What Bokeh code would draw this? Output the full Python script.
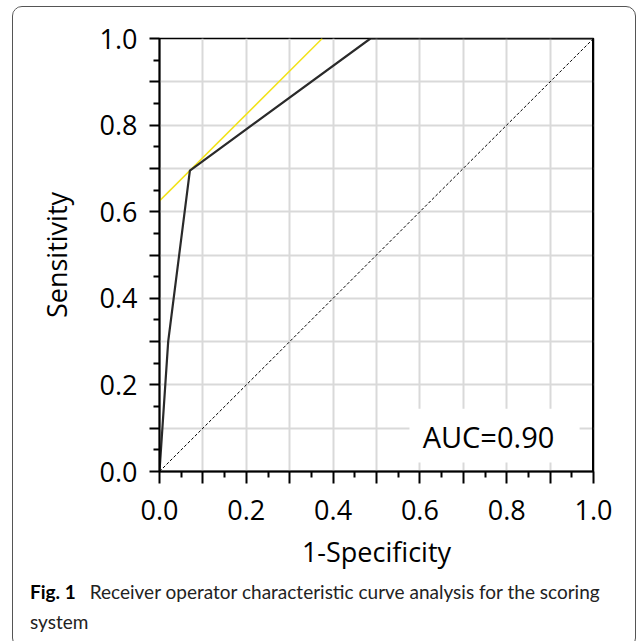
from bokeh.plotting import figure
from bokeh.models import FixedTicker, Label, BoxAnnotation, Range1d, Span, Div
from bokeh.layouts import column
from bokeh.embed import file_html
from bokeh.resources import INLINE

# ROC curve (1-specificity, sensitivity)
roc_fpr = [0.0, 0.02, 0.07, 0.486, 1.0]
roc_tpr = [0.0, 0.30, 0.695, 1.0, 1.0]
# tangent (Youden) line
tan_x = [0.0, 0.375]
tan_y = [0.625, 1.0]
# chance diagonal
diag_x = [0.0, 1.0]
diag_y = [0.0, 1.0]

major_ticks = [0.0, 0.1, 0.2, 0.3, 0.4, 0.5, 0.6, 0.7, 0.8, 0.9, 1.0]
minor_ticks = [0.05, 0.15, 0.25, 0.35, 0.45, 0.55, 0.65, 0.75, 0.85, 0.95]
tick_labels = {0.0: "0.0", 0.2: "0.2", 0.4: "0.4", 0.6: "0.6", 0.8: "0.8", 1.0: "1.0",
               0.1: "", 0.3: "", 0.5: "", 0.7: "", 0.9: ""}
auc_text = "AUC=0.90"
x_title = "1-Specificity"
y_title = "Sensitivity"
cap_bold = "Fig. 1"
cap_line1 = "Receiver operator characteristic curve analysis for the scoring"
cap_line2 = "system"

FONT = "Open Sans"
CAP_FONT = "Lato"

p = figure(width=612, height=565, output_backend="svg", toolbar_location=None,
           x_range=Range1d(0, 1), y_range=Range1d(0, 1),
           min_border_left=146, min_border_right=32, min_border_top=31, min_border_bottom=94)
p.background_fill_color = "white"
p.border_fill_color = "white"
p.outline_line_color = "black"
p.outline_line_width = 1.5

for ax in (p.xaxis[0], p.yaxis[0]):
    ax.ticker = FixedTicker(ticks=major_ticks, minor_ticks=minor_ticks)
    ax.major_label_overrides = tick_labels
    ax.major_label_text_font = FONT
    ax.major_label_text_font_size = "27px"
    ax.major_label_text_color = "black"
    ax.axis_label_text_font = FONT
    ax.axis_label_text_font_size = "27px"
    ax.axis_label_text_font_style = "normal"
    ax.axis_label_text_color = "black"
    ax.axis_line_color = "black"
    ax.axis_line_width = 2
    ax.major_tick_line_color = "black"
    ax.major_tick_line_width = 2
    ax.minor_tick_line_color = "black"
    ax.minor_tick_line_width = 2
    ax.major_tick_in = 0
    ax.minor_tick_in = 0
    ax.minor_tick_out = 6

p.xaxis.major_tick_out = 12
p.yaxis.major_tick_out = 10
p.xaxis.axis_label = x_title
p.yaxis.axis_label = y_title
p.xaxis.major_label_standoff = 16
p.yaxis.major_label_standoff = 12
p.xaxis.axis_label_standoff = 10
p.yaxis.axis_label_standoff = 22

for g in (p.xgrid[0], p.ygrid[0]):
    g.ticker = FixedTicker(ticks=major_ticks)
    g.grid_line_color = "#d9d9d9"
    g.grid_line_width = 2

# white box behind the AUC label (over the grid, under the lines)
p.add_layout(BoxAnnotation(left=0.576, right=0.968, bottom=0.021, top=0.145,
                           fill_color="white", fill_alpha=1, line_color=None, level="underlay"))

p.line(diag_x, diag_y, line_color="black", line_width=1, line_dash="3 2")
p.line(tan_x, tan_y, line_color="#f2e21a", line_width=1.5)
p.line(roc_fpr, roc_tpr, line_color="#2a2a2a", line_width=2.2)
p.add_layout(Span(location=1.0, dimension="height", line_color="black", line_width=3))

p.add_layout(Label(x=0.758, y=0.08, text=auc_text, text_font=FONT, text_font_size="29px",
                   text_align="center", text_baseline="middle", text_color="black"))

# caption
cap_html = (
    f'<div style="white-space:nowrap; height:30px; line-height:30px;">'
    f'<b style="color:#000">{cap_bold}</b>'
    f'<span style="margin-left:14px">{cap_line1}</span></div>'
    f'<div style="white-space:nowrap; height:30px; line-height:30px;">{cap_line2}</div>'
)
cap = Div(text=cap_html, width=612, height=65,
          styles={"font-family": CAP_FONT, "font-size": "19px",
                  "color": "#222222", "padding": "0px 8px 0px 12px",
                  "box-sizing": "border-box"})

layout = column(p, cap, spacing=0, margin=(6, 0, 0, 12),
                styles={"border": "1px solid #555555", "border-radius": "10px",
                        "overflow": "hidden", "background": "white"})

open("out.html", "w").write(file_html(layout, INLINE))
